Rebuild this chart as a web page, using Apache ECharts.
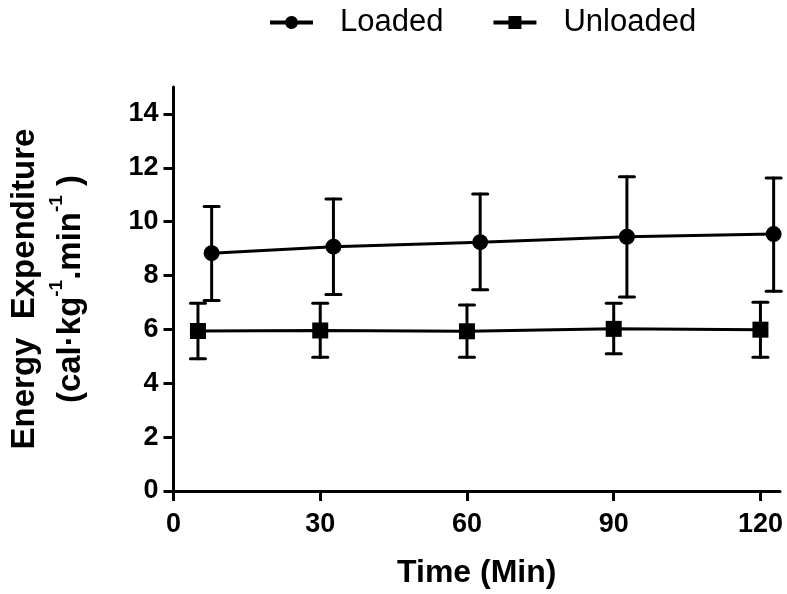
<!DOCTYPE html>
<html>
<head>
<meta charset="utf-8">
<script src="https://cdn.jsdelivr.net/npm/echarts@6/dist/echarts.min.js"></script>
<style>
html,body{margin:0;padding:0;background:#fff;}
#chart{width:787px;height:594px;}
</style>
</head>
<body>
<div id="chart"></div>
<script>
// Data
const loadedTime = [7.8, 32.7, 62.7, 92.7, 122.7];
const loadedMean = [8.83, 9.07, 9.24, 9.44, 9.54];
const loadedLow  = [7.07, 7.30, 7.47, 7.20, 7.42];
const loadedHigh = [10.56, 10.84, 11.03, 11.67, 11.62];

const unloadedTime = [5, 30, 60, 90, 120];
const unloadedMean = [5.94, 5.96, 5.93, 6.02, 5.99];
const unloadedLow  = [4.91, 4.97, 4.97, 5.10, 4.97];
const unloadedHigh = [6.97, 6.97, 6.91, 6.97, 7.01];

const xTicks = [0, 30, 60, 90, 120];
const yTicks = [0, 2, 4, 6, 8, 10, 12, 14];

const seriesNames = ['Loaded', 'Unloaded'];

const FONT = '"Liberation Sans", Arial, Helvetica, sans-serif';

// legend icons: thick line with marker in the middle
const ICON_CIRCLE = 'path://M0 4.5L15.32 4.5A6.5 6.5 0 0 1 27.68 4.5L43 4.5L43 8.5L27.68 8.5A6.5 6.5 0 0 1 15.32 8.5L0 8.5Z';
const ICON_SQUARE = 'path://M0 4.5L15 4.5L15 0L28 0L28 4.5L43 4.5L43 8.5L28 8.5L28 13L15 13L15 8.5L0 8.5Z';

function pairs(xs, ys){ return xs.map((x,i)=>[x, ys[i]]); }
function errData(xs, lo, hi){ return xs.map((x,i)=>[x, lo[i], hi[i]]); }

function renderErr(params, api){
  const x = api.value(0), lo = api.value(1), hi = api.value(2);
  const a = api.coord([x, lo]), b = api.coord([x, hi]);
  const hw = 7.5;
  const style = {stroke:'#000', lineWidth:3, lineCap:'round'};
  return {type:'group', children:[
    {type:'line', shape:{x1:a[0], y1:a[1], x2:b[0], y2:b[1]}, style:style},
    {type:'line', shape:{x1:a[0]-hw, y1:a[1], x2:a[0]+hw, y2:a[1]}, style:style},
    {type:'line', shape:{x1:b[0]-hw, y1:b[1], x2:b[0]+hw, y2:b[1]}, style:style}
  ]};
}

const chart = echarts.init(document.getElementById('chart'), null, {renderer:'canvas'});

const option = {
  animation: false,
  backgroundColor: '#fff',
  textStyle: {fontFamily: FONT},
  legend: {
    data: [
      {name: seriesNames[0], icon: ICON_CIRCLE},
      {name: seriesNames[1], icon: ICON_SQUARE}
    ],
    left: 265,
    top: 2,
    itemWidth: 43,
    itemHeight: 13,
    itemGap: 50,
    itemStyle: {color: '#000', borderWidth: 0},
    lineStyle: {width: 0},
    textStyle: {fontFamily: FONT, fontSize: 31, color: '#000', padding: [0,0,0,22]}
  },
  grid: {left: 173, right: 7, top: 87, bottom: 103, containLabel: false},
  xAxis: {
    type: 'value',
    min: 0, max: 124,
    name: 'Time (Min)',
    nameLocation: 'middle',
    nameGap: 66,
    nameTextStyle: {fontFamily: FONT, fontSize: 32, fontWeight: 'bold', color: '#000'},
    axisLine: {show: true, onZero: false, lineStyle: {color: '#000', width: 3}},
    axisTick: {show: true, length: 10, lineStyle: {color: '#000', width: 3}, customValues: xTicks},
    axisLabel: {fontFamily: FONT, fontSize: 27, fontWeight: 'bold', color: '#000', margin: 20, customValues: xTicks},
    splitLine: {show: false}
  },
  yAxis: {
    type: 'value',
    min: 0, max: 15,
    name: '{a|Energy  Expenditure}\n{a|(cal·kg}{s|-1}{a|.min}{s|-1}{a| )}',
    nameLocation: 'middle',
    nameRotate: 90,
    nameGap: 80,
    nameTextStyle: {
      fontFamily: FONT, color: '#000',
      rich: {
        a: {fontFamily: FONT, fontSize: 33, fontWeight: 'bold', color: '#000', lineHeight: 46},
        s: {fontFamily: FONT, fontSize: 19, fontWeight: 'bold', color: '#000', verticalAlign: 'top', lineHeight: 46, padding:[0,0,12,0]}
      }
    },
    axisLine: {show: true, onZero: false, lineStyle: {color: '#000', width: 3}},
    axisTick: {show: true, length: 10, lineStyle: {color: '#000', width: 3}, customValues: yTicks},
    axisLabel: {fontFamily: FONT, fontSize: 27, fontWeight: 'bold', color: '#000', margin: 15, customValues: yTicks},
    splitLine: {show: false}
  },
  series: [
    {
      type: 'custom', name: 'LoadedErr', renderItem: renderErr,
      data: errData(loadedTime, loadedLow, loadedHigh), z: 1, silent: true
    },
    {
      type: 'custom', name: 'UnloadedErr', renderItem: renderErr,
      data: errData(unloadedTime, unloadedLow, unloadedHigh), z: 1, silent: true
    },
    {
      type: 'line', name: seriesNames[0], data: pairs(loadedTime, loadedMean),
      symbol: 'circle', symbolSize: 16, z: 3,
      lineStyle: {color: '#000', width: 3}, itemStyle: {color: '#000'}
    },
    {
      type: 'line', name: seriesNames[1], data: pairs(unloadedTime, unloadedMean),
      symbol: 'rect', symbolSize: 16, z: 3,
      lineStyle: {color: '#000', width: 3}, itemStyle: {color: '#000'}
    }
  ]
};
chart.setOption(option);
</script>
</body>
</html>
